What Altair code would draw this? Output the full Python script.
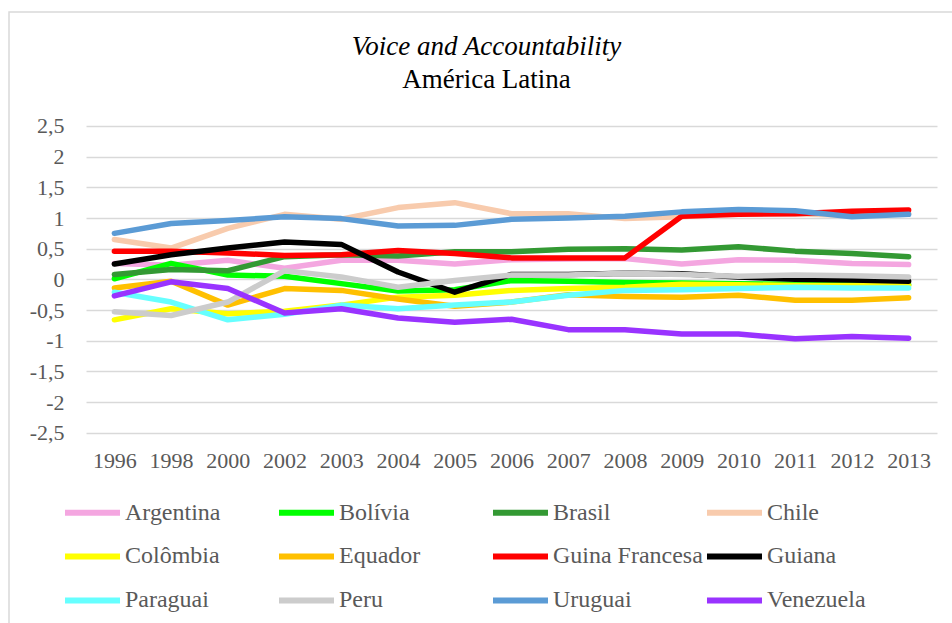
import altair as alt
import pandas as pd

years = ["1996", "1998", "2000", "2002", "2003", "2004", "2005", "2006",
         "2007", "2008", "2009", "2010", "2011", "2012", "2013"]

countries = ["Argentina", "Bolívia", "Brasil", "Chile", "Colômbia", "Equador",
             "Guina Francesa", "Guiana", "Paraguai", "Peru", "Uruguai", "Venezuela"]

colors = ["#F4A6E0", "#00FF00", "#339933", "#F8CBAD", "#FFFF00", "#FFC000",
          "#FF0000", "#000000", "#66FFFF", "#CCCCCC", "#5B9BD5", "#9933FF"]

argentina = [0.26, 0.23, 0.31, 0.18, 0.31, 0.31, 0.25, 0.32, 0.33, 0.34, 0.25, 0.32, 0.31, 0.26, 0.24]
bolivia = [0.01, 0.26, 0.07, 0.05, -0.07, -0.19, -0.17, -0.02, -0.03, -0.05, -0.06, -0.07, -0.08, -0.09, -0.09]
brasil = [0.08, 0.16, 0.14, 0.37, 0.40, 0.38, 0.45, 0.45, 0.49, 0.50, 0.48, 0.53, 0.46, 0.42, 0.37]
chile = [0.65, 0.51, 0.83, 1.06, 0.98, 1.17, 1.25, 1.07, 1.07, 0.99, 1.02, 1.08, 1.07, 1.04, 1.07]
colombia = [-0.66, -0.48, -0.56, -0.52, -0.42, -0.29, -0.26, -0.18, -0.15, -0.13, -0.08, -0.09, -0.10, -0.10, -0.10]
equador = [-0.14, -0.03, -0.42, -0.15, -0.18, -0.32, -0.44, -0.37, -0.25, -0.28, -0.29, -0.26, -0.34, -0.34, -0.30]
guina_francesa = [0.46, 0.46, 0.43, 0.39, 0.40, 0.47, 0.42, 0.35, 0.35, 0.35, 1.03, 1.06, 1.07, 1.11, 1.13]
guiana = [0.25, 0.40, 0.51, 0.61, 0.57, 0.12, -0.21, 0.08, 0.08, 0.10, 0.09, 0.04, 0.00, -0.01, -0.03]
paraguai = [-0.21, -0.37, -0.66, -0.57, -0.42, -0.48, -0.42, -0.37, -0.26, -0.18, -0.17, -0.15, -0.13, -0.14, -0.14]
peru = [-0.53, -0.59, -0.37, 0.14, 0.04, -0.13, -0.02, 0.07, 0.07, 0.10, 0.08, 0.05, 0.07, 0.06, 0.04]
uruguai = [0.75, 0.91, 0.96, 1.02, 0.99, 0.87, 0.88, 0.98, 1.00, 1.03, 1.10, 1.14, 1.12, 1.02, 1.06]
venezuela = [-0.27, -0.04, -0.15, -0.55, -0.48, -0.63, -0.70, -0.65, -0.82, -0.82, -0.89, -0.89, -0.97, -0.93, -0.96]

y_ticks = [2.5, 2, 1.5, 1, 0.5, 0, -0.5, -1, -1.5, -2, -2.5]

series = [argentina, bolivia, brasil, chile, colombia, equador,
          guina_francesa, guiana, paraguai, peru, uruguai, venezuela]

rows = []
for i, (name, vals) in enumerate(zip(countries, series)):
    for j, (yr, v) in enumerate(zip(years, vals)):
        rows.append({"País": name, "Ano": yr, "Valor": v, "ordem": i})
df = pd.DataFrame(rows)

FONT = "Liberation Serif"

lines = alt.Chart(df).mark_line(
    strokeWidth=5.5, strokeCap="round", strokeJoin="round"
).encode(
    x=alt.X("Ano:O", sort=years, title=None,
            scale=alt.Scale(paddingOuter=0.5),
            axis=alt.Axis(labelAngle=0, domain=False, ticks=False, grid=False,
                          labelPadding=18, labelFont=FONT, labelFontSize=22,
                          labelColor="#595959")),
    y=alt.Y("Valor:Q", title=None,
            scale=alt.Scale(domain=[-2.5, 2.5], nice=False, zero=False),
            axis=alt.Axis(values=y_ticks, domain=False, ticks=False,
                          gridColor="#D9D9D9", gridWidth=1.5,
                          labelExpr="replace(toString(datum.value), '.', ',')",
                          labelPadding=22, labelFont=FONT, labelFontSize=22,
                          labelColor="#595959")),
    color=alt.Color("País:N", sort=countries,
                    scale=alt.Scale(domain=countries, range=colors),
                    legend=alt.Legend(orient="none", legendX=-24, legendY=356,
                                      columns=4, title=None, direction="horizontal",
                                      symbolType="stroke", symbolSize=3025,
                                      symbolStrokeWidth=6, labelFont=FONT,
                                      labelFontSize=24, labelColor="#595959",
                                      labelOffset=2, columnPadding=-8,
                                      rowPadding=1, gridAlign="all",
                                      labelLimit=300, padding=0)),
    order=alt.Order("ordem:Q"),
    detail="País:N",
)

border = alt.Chart(pd.DataFrame({"b": [0]})).mark_rect(
    fill=None, stroke="#D9D9D9", strokeWidth=1.5
).encode(
    x=alt.value(-77), x2=alt.value(900),
    y=alt.value(-114), y2=alt.value(520),
)

chart = alt.layer(border, lines).properties(
    width=851,
    height=306.7,
    autosize=alt.AutoSizeParams(type="none"),
    padding={"left": 86, "top": 126, "right": 15, "bottom": 190},
    title=alt.TitleParams(
        text="Voice and Accountability", subtitle="América Latina",
        font=FONT, fontSize=27, fontStyle="italic", fontWeight="normal",
        color="black", subtitleFont=FONT, subtitleFontSize=27,
        subtitleColor="black", subtitleFontStyle="normal",
        anchor="middle", frame="group", dx=-25, offset=-83, subtitlePadding=6,
    ),
).configure_view(stroke=None)

chart.save("out.html", embed_options={"renderer": "svg", "actions": False})
